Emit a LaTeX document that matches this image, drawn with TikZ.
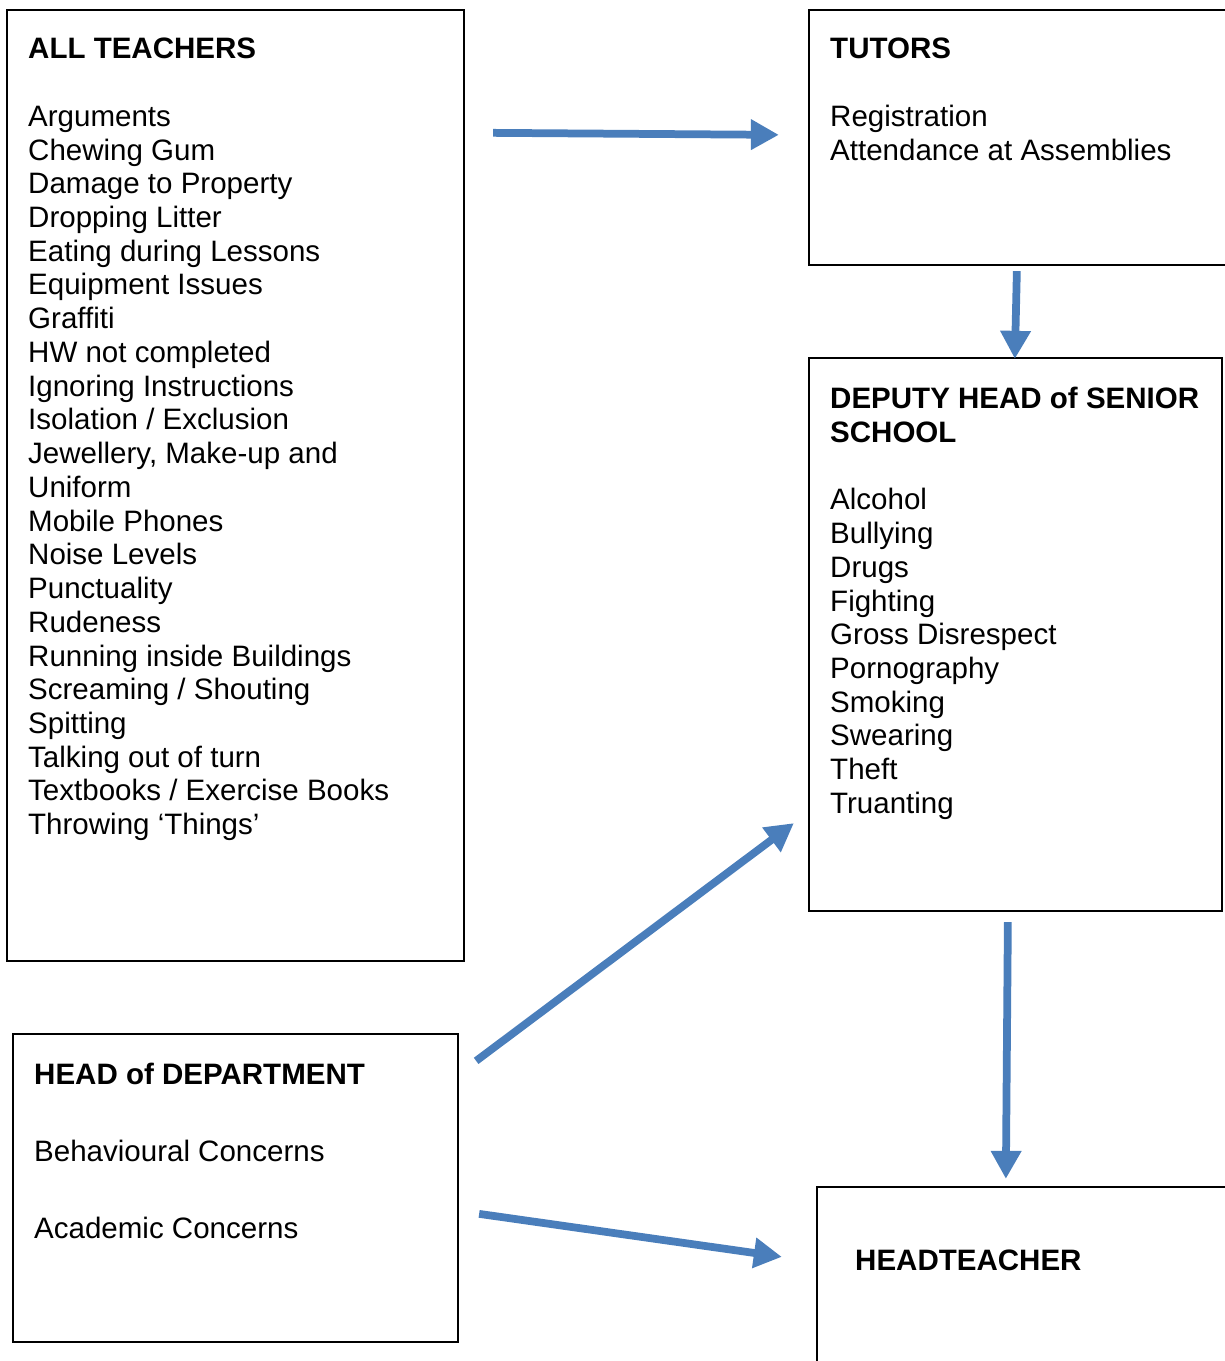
\documentclass[tikz,border=0pt]{standalone}
\usepackage{fontspec}
\setmainfont{Liberation Sans}
\usetikzlibrary{arrows.meta,fit}
\definecolor{flowblue}{RGB}{74,126,187}

\begin{document}
\begin{tikzpicture}[x=0.02cm, y=-0.02cm,
  box/.style={draw, line width=1.3pt, inner sep=0pt},
  txt/.style={anchor=north west, inner sep=0pt, align=left,
    font=\fontsize{16.8}{19.2}\selectfont},
  flow/.style={flowblue, line width=0.155cm,
    -{Triangle[width=0.58cm, length=0.56cm]}}]
  \useasboundingbox (0,0) rectangle (1224,1361);
  % Boxes
  \node[box, fit={(7,10) (464,961)}] (teachers) {};
  \node[box, fit={(809,10) (1240,265)}] (tutors) {};
  \node[box, fit={(809,358) (1222,911)}] (deputy) {};
  \node[box, fit={(13,1034) (458,1342)}] (hod) {};
  \node[box, fit={(817,1187) (1240,1380)}] (head) {};
  % Texts
  \node[txt] (teacherstxt) at ([shift={(22,29)}]teachers.north west)
    {\textbf{ALL TEACHERS}\\[19.2pt]
     Arguments\\ Chewing Gum\\ Damage to Property\\ Dropping Litter\\
     Eating during Lessons\\ Equipment Issues\\ Graffiti\\ HW not completed\\
     Ignoring Instructions\\ Isolation / Exclusion\\ Jewellery, Make-up and\\
     Uniform\\ Mobile Phones\\ Noise Levels\\ Punctuality\\ Rudeness\\
     Running inside Buildings\\ Screaming / Shouting\\ Spitting\\
     Talking out of turn\\ Textbooks / Exercise Books\\ Throwing ‘Things’};
  \node[txt] (tutorstxt) at ([shift={(22,29)}]tutors.north west)
    {\textbf{TUTORS}\\[19.2pt]
     Registration\\ Attendance at Assemblies};
  \node[txt] (deputytxt) at ([shift={(22,30)}]deputy.north west)
    {\textbf{DEPUTY HEAD of SENIOR}\\ \textbf{SCHOOL}\\[19.2pt]
     Alcohol\\ Bullying\\ Drugs\\ Fighting\\ Gross Disrespect\\
     Pornography\\ Smoking\\ Swearing\\ Theft\\ Truanting};
  \node[txt] (hodtxt) at ([shift={(22,30)}]hod.north west)
    {\textbf{HEAD of DEPARTMENT}\\[24.6pt]
     Behavioural Concerns\\[24.6pt]
     Academic Concerns};
  \node[txt] (headtxt) at ([shift={(39,64)}]head.north west)
    {\textbf{HEADTEACHER}};
  % Arrows
  \draw[flow] ([shift={(28,124)}]teachers.north east) -- ([shift={(-29,126)}]tutors.north west);
  \draw[flow] ([shift={(209,5)}]tutors.south west) -- ([shift={(207,2)}]deputy.north west);
  \draw[flow] ([shift={(17,28)}]hod.north east) -- ([shift={(-14,-89)}]deputy.south west);
  \draw[flow] ([shift={(200,10)}]deputy.south west) -- ([shift={(190,-7)}]head.north west);
  \draw[flow] ([shift={(20,181)}]hod.north east) -- ([shift={(-34,71)}]head.north west);
\end{tikzpicture}
\end{document}
